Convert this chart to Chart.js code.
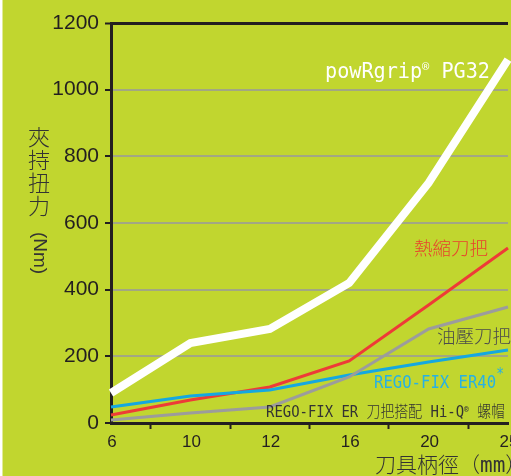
<!DOCTYPE html>
<html>
<head>
<meta charset="utf-8">
<script src="https://cdn.jsdelivr.net/npm/chart.js@4.4.1/dist/chart.umd.min.js"></script>
<style>
    html, body { margin: 0; padding: 0; overflow: hidden; background: #fff; }
    #caixa { width: 511px; height: 476px; overflow: hidden; }
    canvas { display: block; }
</style>
</head>
<body>
<div id="caixa"><canvas id="graficoTorque" width="540" height="476"></canvas></div>
<script>
// valores (Nm por diâmetro da haste, mm)
const diametros = ['6', '10', '12', '16', '20', '25'];
const powRgrip = [90, 240, 282, 420, 720, 1090];
const termoContracao = [24, 69, 108, 186, 354, 525];
const hidraulico = [9, 30, 48, 138, 282, 348];
const er40 = [48, 81, 99, 144, 183, 219];
const ticksY = [0, 200, 400, 600, 800, 1000, 1200];

const corFundo = '#c1d62f';
const corEixo = '#231f20';
const mono = '"DejaVu Sans Mono", "Noto Sans CJK TC", monospace';
const cjk = '"Noto Sans CJK TC", sans-serif';

function desenharTexto(ctx, partes, x, y, largura, cor) {
    ctx.save();
    ctx.fillStyle = cor;
    ctx.textAlign = 'left';
    ctx.textBaseline = 'alphabetic';
    let total = 0;
    partes.forEach(p => {
        ctx.font = p.font;
        p.w = ctx.measureText(p.t).width;
        total += p.w;
    });
    const sx = largura ? largura / total : 1;
    ctx.translate(x, y);
    ctx.scale(sx, 1);
    let cx = 0;
    partes.forEach(p => {
        ctx.font = p.font;
        ctx.fillText(p.t, cx, p.dy || 0);
        cx += p.w;
    });
    ctx.restore();
}

const decoracao = {
    id: 'decoracao',
    beforeDraw(chart) {
        const ctx = chart.ctx;
        ctx.save();
        ctx.fillStyle = corFundo;
        ctx.fillRect(0, 0, chart.width, chart.height);
        ctx.fillStyle = '#fff';
        ctx.fillRect(0, 0, 2.5, chart.height);
        ctx.restore();
    },
    afterDatasetsDraw(chart) {
        const ctx = chart.ctx;
        desenharTexto(ctx, [
            { t: 'powRgrip', font: '22px ' + mono },
            { t: '®', font: '13px ' + mono, dy: -7 },
            { t: ' PG32', font: '22px ' + mono }
        ], 325, 78, 165, '#ffffff');

        desenharTexto(ctx, [{ t: '熱縮刀把', font: '300 18px ' + cjk }], 414, 255, 74, '#e8432c');
        desenharTexto(ctx, [{ t: '油壓刀把', font: '300 18px ' + cjk }], 437, 343, 74, '#4b4b4b');

        desenharTexto(ctx, [
            { t: 'REGO-FIX ER40', font: '18px ' + mono },
            { t: '*', font: '15px ' + mono, dy: -9 }
        ], 374, 388, 130, '#27b1e4');

        desenharTexto(ctx, [
            { t: 'REGO-FIX ER ', font: '16px ' + mono },
            { t: '刀把搭配', font: '300 16px ' + cjk },
            { t: ' Hi-Q', font: '16px ' + mono },
            { t: '®', font: '9px ' + mono, dy: -5 },
            { t: ' ', font: '16px ' + mono },
            { t: '螺帽', font: '300 16px ' + cjk }
        ], 266, 417, 239, '#333333');
    },
    afterDraw(chart) {
        const ctx = chart.ctx;
        ctx.save();
        ctx.fillStyle = '#333';
        ctx.textAlign = 'center';
        ctx.textBaseline = 'middle';
        ctx.font = '300 22px ' + cjk;
        ['夾', '持', '扭', '力'].forEach((c, i) => ctx.fillText(c, 39, 137 + i * 23));
        ctx.translate(39, 253);
        ctx.rotate(Math.PI / 2);
        ctx.font = '19px "Liberation Sans", Arial, sans-serif';
        ctx.fillText('(Nm)', 0, 0);
        ctx.restore();

        desenharTexto(ctx, [
            { t: '刀具柄徑（', font: '300 21px ' + cjk },
            { t: 'mm', font: '21px ' + mono },
            { t: '）', font: '300 21px ' + cjk }
        ], 375, 472, null, '#333333');
    }
};

const ctx = document.getElementById('graficoTorque').getContext('2d');

new Chart(ctx, {
    type: 'line',
    data: {
        labels: diametros,
        datasets: [
            { data: hidraulico, borderColor: '#9c9c9c', borderWidth: 3 },
            { data: er40, borderColor: '#15a8e0', borderWidth: 3 },
            { data: termoContracao, borderColor: '#ee3b37', borderWidth: 3 },
            { data: powRgrip, borderColor: '#ffffff', borderWidth: 8 }
        ]
    },
    options: {
        responsive: false,
        animation: false,
        events: [],
        elements: {
            point: { radius: 0 },
            line: { tension: 0, borderCapStyle: 'butt', borderJoinStyle: 'miter' }
        },
        layout: { padding: { top: 23, left: 0, right: 32, bottom: 0 } },
        plugins: {
            legend: { display: false },
            tooltip: { enabled: false }
        },
        scales: {
            x: {
                type: 'category',
                offset: false,
                afterFit(scale) { scale.height = 53; },
                grid: {
                    offset: true,
                    drawOnChartArea: false,
                    tickLength: 6,
                    tickColor: corEixo,
                    tickWidth: 2
                },
                border: { color: corEixo, width: 3 },
                ticks: {
                    color: corEixo,
                    padding: 3,
                    labelOffset: 1,
                    maxRotation: 0,
                    autoSkip: false,
                    font: { family: '"Liberation Sans", Arial, sans-serif', size: 17 }
                }
            },
            y: {
                min: 0,
                max: 1200,
                afterFit(scale) { scale.width = 111; },
                afterBuildTicks(scale) { scale.ticks = ticksY.map(v => ({ value: v })); },
                grid: {
                    color: c => (c.tick && c.tick.value === 1200) ? corEixo : '#a2a783',
                    lineWidth: c => (c.tick && c.tick.value === 1200) ? 3 : 2,
                    tickLength: 6,
                    tickColor: corEixo,
                    tickWidth: 2
                },
                border: { color: corEixo, width: 3 },
                ticks: {
                    color: corEixo,
                    padding: 6,
                    callback: v => String(v),
                    font: { family: '"Liberation Sans", Arial, sans-serif', size: 21 }
                }
            }
        }
    },
    plugins: [decoracao]
});
</script>
</body>
</html>
